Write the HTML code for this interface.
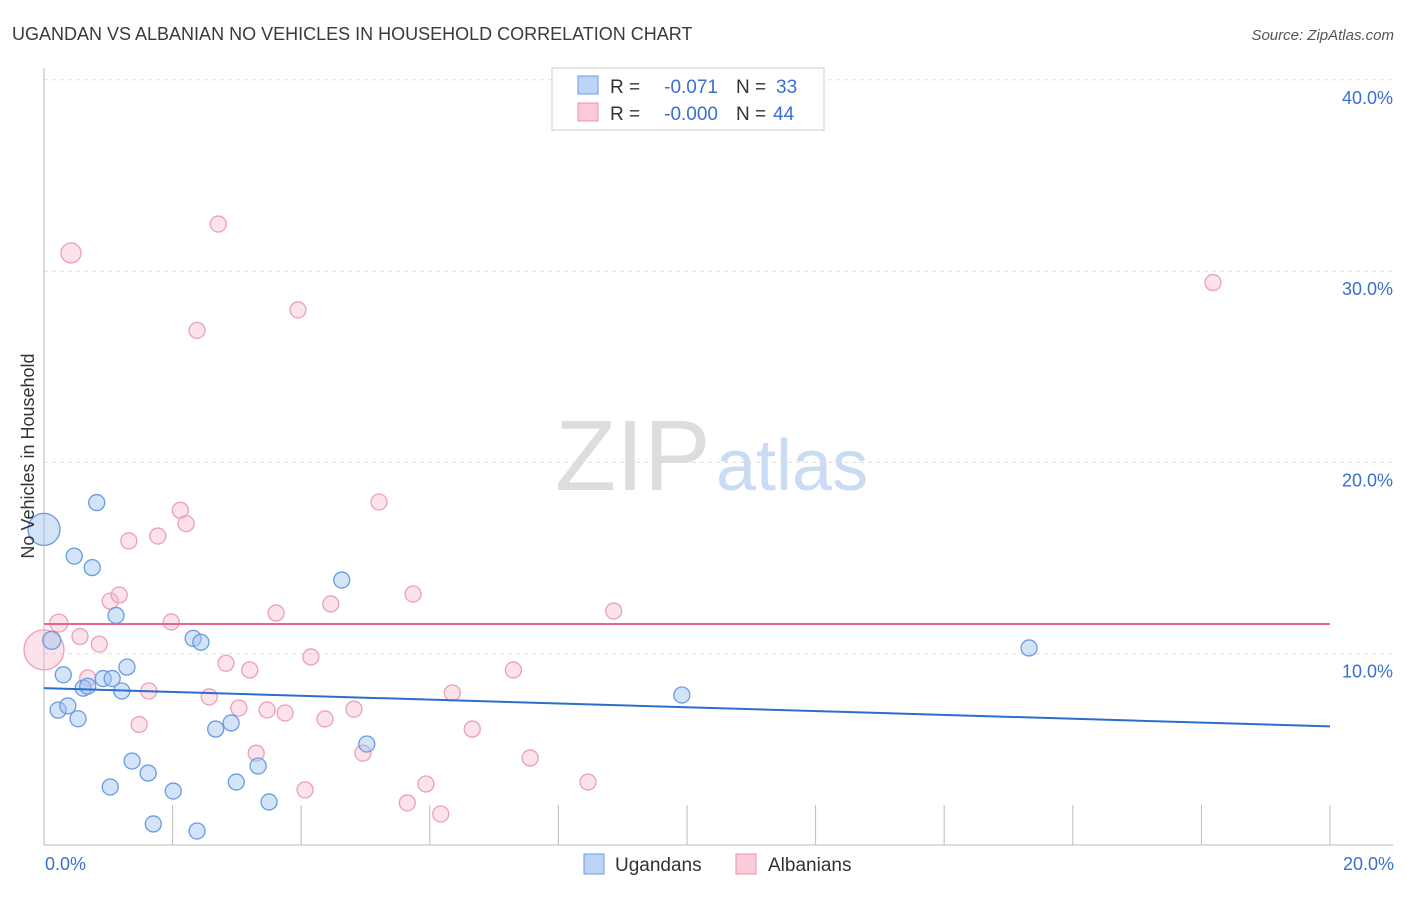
<!DOCTYPE html>
<html><head><meta charset="utf-8"><style>
body{margin:0;background:#fff;font-family:"Liberation Sans",sans-serif;}
svg text{font-family:"Liberation Sans",sans-serif;}
</style></head><body>
<svg id="c" width="1406" height="892" xmlns="http://www.w3.org/2000/svg">
<text x="12" y="40" font-size="18" fill="#3a3a3a">UGANDAN VS ALBANIAN NO VEHICLES IN HOUSEHOLD CORRELATION CHART</text>
<text x="1394" y="40" font-size="15" fill="#555" font-style="italic" text-anchor="end">Source: ZipAtlas.com</text>
<text x="555" y="490" font-size="100" fill="#ddd" font-family="Liberation Serif">ZIP</text>
<text x="716" y="490" font-size="72" fill="#c9dcf3">atlas</text>
<g id="grid"></g>
<g id="pts"></g>
<g id="lines"></g>
<text transform="translate(34,456) rotate(-90)" font-size="18" fill="#333" text-anchor="middle">No Vehicles in Household</text>
<text x="45" y="870" font-size="18" fill="#3a6fd0">0.0%</text>
<text x="1394" y="870" font-size="18" fill="#3a6fd0" text-anchor="end">20.0%</text>
<g>
<rect x="552" y="68" width="272" height="62" fill="#fff" stroke="#ccc"/>
<rect x="578" y="76" width="20" height="18" fill="#bcd4f5" stroke="#6a9be0"/>
<rect x="578" y="103" width="20" height="18" fill="#fbcbd8" stroke="#ec8fab"/>
<text x="610" y="93" font-size="19" fill="#333">R =</text>
<text x="718" y="93" font-size="19" fill="#3a6fd0" text-anchor="end">-0.071</text>
<text x="736" y="93" font-size="19" fill="#333">N =</text>
<text x="776" y="93" font-size="19" fill="#3a6fd0">33</text>
<text x="610" y="120" font-size="19" fill="#333">R =</text>
<text x="718" y="120" font-size="19" fill="#3a6fd0" text-anchor="end">-0.000</text>
<text x="736" y="120" font-size="19" fill="#333">N =</text>
<text x="773" y="120" font-size="19" fill="#3a6fd0">44</text>
</g>
<g>
<rect x="584" y="854" width="20" height="20" fill="#bcd4f5" stroke="#6a9be0"/>
<text x="615" y="871" font-size="19" fill="#333">Ugandans</text>
<rect x="736" y="854" width="20" height="20" fill="#fbcbd8" stroke="#ec8fab"/>
<text x="768" y="871" font-size="19" fill="#333">Albanians</text>
</g>
</svg>
<script>
const yTicks=[10,20,30,40];
const yTickLabels=["10.0%","20.0%","30.0%","40.0%"];
const xTicks=[0,2,4,6,8,10,12,14,16,18,20];
const ugX=[0,0.82,0.47,0.75,1.12,0.12,1.29,0.30,0.92,1.06,0.61,0.68,1.21,0.22,0.37,0.53,2.32,2.44,2.67,2.91,4.63,5.02,3.33,1.37,1.62,1.03,2.01,2.99,3.5,1.70,2.38,9.92,15.32];
const ugY=[16.5,17.9,15.1,14.5,12.0,10.7,9.3,8.9,8.7,8.7,8.2,8.3,8.05,7.05,7.27,6.6,10.8,10.6,6.06,6.38,13.85,5.28,4.13,4.39,3.76,3.03,2.82,3.29,2.25,1.1,0.73,7.84,10.3];
const ugR=[16,8,8,8,8,9,8,8,8,8,8,8,8,8,8,8,8,8,8,8,8,8,8,8,8,8,8,8,8,8,8,8,8];
const alX=[0.42,2.71,2.38,3.95,18.18,0,0.23,0.56,0.86,1.03,1.17,1.32,1.77,2.12,2.21,1.98,0.68,1.63,1.48,2.57,2.83,3.2,3.61,3.03,3.47,3.75,4.15,3.3,4.06,4.37,4.46,4.82,4.96,5.21,5.74,5.65,5.94,6.17,6.35,6.66,7.3,7.56,8.46,8.86];
const alY=[30.95,32.46,26.9,27.97,29.4,10.2,11.6,10.9,10.5,12.75,13.07,15.9,16.15,17.5,16.8,11.66,8.73,8.05,6.3,7.74,9.5,9.15,12.13,7.16,7.06,6.9,9.83,4.8,2.88,6.59,12.6,7.1,4.8,17.93,13.12,2.2,3.19,1.62,7.95,6.06,9.15,4.55,3.29,12.23];
const alR=[10,8,8,8,8,20,9,8,8,8,8,8,8,8,8,8,8,8,8,8,8,8,8,8,8,8,8,8,8,8,8,8,8,8,8,8,8,8,8,8,8,8,8,8];
const ugTrend=[8.2,6.2];
const alTrend=[11.55,11.55];
const X0=44,X1=1330,Y0=845,PY=19.13;
const sx=v=>X0+(v/20)*(X1-X0);
const sy=v=>Y0-v*PY;
const NS="http://www.w3.org/2000/svg";
function mk(t,a,p){const e=document.createElementNS(NS,t);for(const k in a)e.setAttribute(k,a[k]);p.appendChild(e);return e;}
const grid=document.getElementById('grid');
yTicks.forEach((t,i)=>{
 const l=mk('line',{x1:44,x2:1393,y1:sy(t),y2:sy(t),stroke:'#ddd','stroke-dasharray':'4,4'},grid);
 
 
 const tx=mk('text',{x:1393,y:sy(t)+24,'font-size':18,fill:'#3a6fd0','text-anchor':'end'},grid);
 tx.textContent=yTickLabels[i];
 
 
});
const ax=mk('line',{x1:44,x2:44,y1:68,y2:845,stroke:'#bbb'},grid);


const bx=mk('line',{x1:44,x2:1393,y1:845,y2:845,stroke:'#bbb'},grid);


xTicks.forEach(t=>{
 const l=mk('line',{x1:sx(t),x2:sx(t),y1:805,y2:845,stroke:'#bbb'},grid);
 
 
});
const pts=document.getElementById('pts');
alX.forEach((x,i)=>{
 const c=mk('circle',{cx:sx(x),cy:sy(alY[i]),r:alR[i],fill:'rgba(248,180,200,0.38)',stroke:'#eba0b8','stroke-width':1.3},pts);
 
 
});
ugX.forEach((x,i)=>{
 const c=mk('circle',{cx:sx(x),cy:sy(ugY[i]),r:ugR[i],fill:'rgba(160,195,240,0.45)',stroke:'#6a9be0','stroke-width':1.3},pts);
 
 
});
const ln=document.getElementById('lines');
const a=mk('line',{x1:sx(0),x2:sx(20),y1:sy(alTrend[0]),y2:sy(alTrend[1]),stroke:'#e8658a','stroke-width':2},ln);


const u=mk('line',{x1:sx(0),x2:sx(20),y1:sy(ugTrend[0]),y2:sy(ugTrend[1]),stroke:'#2a6dd0','stroke-width':2},ln);


</script>
</body></html>
